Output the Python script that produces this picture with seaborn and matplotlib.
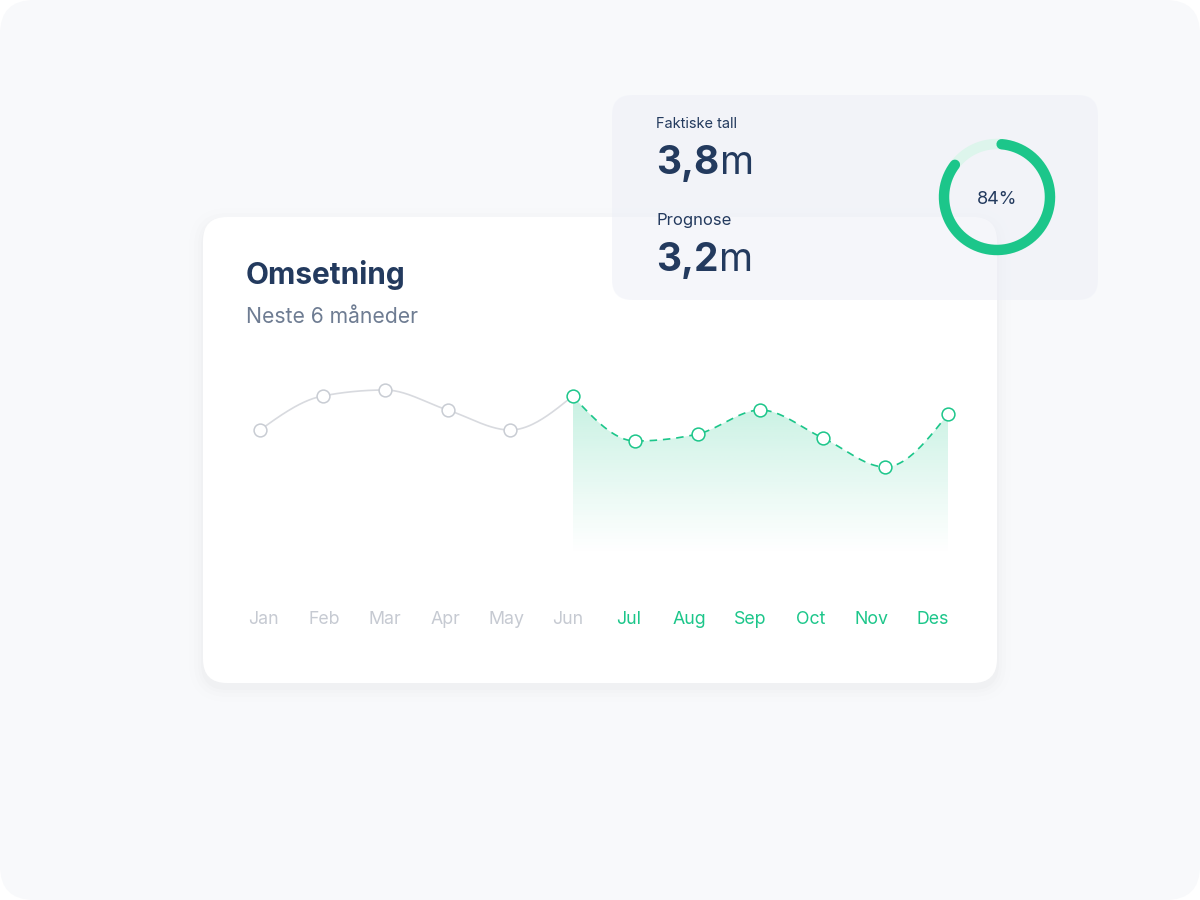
import numpy as np
import pandas as pd
import matplotlib
matplotlib.use("Agg")
import matplotlib.pyplot as plt
from matplotlib.patches import FancyBboxPatch
from matplotlib.path import Path
from matplotlib.patches import PathPatch
import seaborn as sns

# --- Data ---
months = ["Jan", "Feb", "Mar", "Apr", "May", "Jun", "Jul", "Aug", "Sep", "Oct", "Nov", "Des"]
revenue = [260, 328, 340, 300, 260, 328, 238, 252, 300, 244, 186, 292]
n_actual = 6  # Jan..Jun are actual, Jun..Des forecast
actual_label = "Faktiske tall"
actual_value = "3,8"
forecast_label = "Prognose"
forecast_value = "3,2"
unit = "m"
pct_done = 84

# --- Colours ---
GREEN = "#1CC68A"
GREEN_LIGHT = "#DDF5EC"
GRAY_LINE = "#D8DADF"
GRAY_MARK = "#C8CCD3"
GRAY_TXT = "#C6CAD2"
NAVY = "#233A5E"
SUB = "#6E7C92"

sns.set_theme(style="white")
plt.rcParams["font.family"] = ["Inter", "DejaVu Sans"]


def monotone_curve(x, y, n=40):
    # monotone cubic (like d3 curveMonotoneX) for the smooth line
    x = np.asarray(x, float)
    y = np.asarray(y, float)
    h = np.diff(x)
    d = np.diff(y) / h
    m = np.zeros(len(x))
    for i in range(1, len(x) - 1):
        s0, s1 = d[i - 1], d[i]
        p = (s0 * h[i] + s1 * h[i - 1]) / (h[i - 1] + h[i])
        m[i] = (np.sign(s0) + np.sign(s1)) * min(abs(s0), abs(s1), 0.5 * abs(p))
    if len(x) > 2:
        m[0] = (3 * d[0] - m[1]) / 2
        m[-1] = (3 * d[-1] - m[-2]) / 2
    else:
        m[0] = m[-1] = d[0]
    xs, ys = [], []
    for i in range(len(x) - 1):
        t = np.linspace(0, 1, n, endpoint=(i == len(x) - 2))
        h00 = 2 * t**3 - 3 * t**2 + 1
        h10 = t**3 - 2 * t**2 + t
        h01 = -2 * t**3 + 3 * t**2
        h11 = t**3 - t**2
        xs.append(x[i] + t * h[i])
        ys.append(h00 * y[i] + h10 * h[i] * m[i] + h01 * y[i + 1] + h11 * h[i] * m[i + 1])
    return np.concatenate(xs), np.concatenate(ys)


fig = plt.figure(figsize=(12, 9), dpi=100, facecolor="white")

# background axes in pixel coordinates
bg = fig.add_axes([0, 0, 1, 1])
bg.set_xlim(0, 1200)
bg.set_ylim(900, 0)
bg.axis("off")


def card(ax, x0, y0, x1, y1, r, color, alpha=1.0, z=1, shadow=1.0):
    if shadow:
        for k, a in [(14, 0.004), (9, 0.006), (5, 0.008), (2, 0.01)]:
            ax.add_patch(FancyBboxPatch((x0 - k, y0 - k + 5), x1 - x0 + 2 * k, y1 - y0 + 2 * k,
                                        boxstyle=f"round,pad=0,rounding_size={r + k}",
                                        fc="#1B2A4A", ec="none", alpha=a * shadow, zorder=z - 0.5))
    ax.add_patch(FancyBboxPatch((x0, y0), x1 - x0, y1 - y0,
                                boxstyle=f"round,pad=0,rounding_size={r}",
                                fc=color, ec="none", alpha=alpha, zorder=z))


# outer rounded background
card(bg, 0, 0, 1200, 900, 34, "#F8F9FB", z=0.5, shadow=0)
# main card
card(bg, 203, 217, 997, 683, 24, "white", z=2)
# overlay card (translucent)
card(bg, 612, 95, 1098, 300, 20, "#EDEFF7", alpha=0.5, z=3, shadow=0)

# titles
bg.text(246, 275, "Omsetning", fontsize=21.5, fontweight="bold", color=NAVY, va="center", zorder=5)
bg.text(246, 317, "Neste 6 måneder", fontsize=15.2, color=SUB, va="center", zorder=5)

# overlay card texts
renderer = fig.canvas.get_renderer()
bg.text(656, 124, actual_label, fontsize=10.5, color=NAVY, va="center", zorder=5)
bg.text(656, 221, forecast_label, fontsize=12, color=NAVY, va="center", zorder=5)
for val, base in [(actual_value, 174), (forecast_value, 271)]:
    t = bg.text(656, base, val, fontsize=28, fontweight="bold", color=NAVY, va="baseline", zorder=5)
    ext = t.get_window_extent(renderer=renderer)
    bg.text(ext.x1 + 1, base, unit, fontsize=28, color=NAVY, va="baseline", zorder=5)

# donut ring
cx, cy, rad = 997, 197, 53
theta_bg = np.linspace(0, 2 * np.pi, 300)
bg.plot(cx + rad * np.cos(theta_bg), cy - rad * np.sin(theta_bg), color=GREEN_LIGHT, lw=7.5, zorder=5)
theta = np.deg2rad(np.linspace(85, 85 - pct_done / 100 * 360, 300))
bg.plot(cx + rad * np.cos(theta), cy - rad * np.sin(theta), color=GREEN, lw=7.5,
        solid_capstyle="round", zorder=6)
bg.text(cx, cy + 2, f"{pct_done}%", fontsize=13, color=NAVY, ha="center", va="center", zorder=6)

# month labels
for i, m in enumerate(months):
    bg.text(263 + i * 60.9, 619, m, fontsize=12.8, ha="center", va="center",
            color=GREEN if i >= n_actual else GRAY_TXT, zorder=5)

# --- Chart axes ---
ax = fig.add_axes([230 / 1200, 340 / 900, 748 / 1200, 190 / 900])
ax.patch.set_alpha(0)

idx = np.arange(len(months))
hx, hy = monotone_curve(idx[:n_actual], revenue[:n_actual])
fx, fy = monotone_curve(idx[n_actual - 1:], revenue[n_actual - 1:])
hist = pd.DataFrame({"x": hx, "y": hy})
fc = pd.DataFrame({"x": fx, "y": fy})

# gradient fill under forecast
rgba = np.zeros((256, 1, 4))
rgba[..., :3] = matplotlib.colors.to_rgb(GREEN)
vals = np.linspace(0, 380, 256).reshape(-1, 1)
rgba[..., 3] = np.clip((vals - 10) / 330, 0, 1) ** 1.1 * 0.26
img = ax.imshow(rgba, extent=[fx.min(), fx.max(), 0, 380], origin="lower", aspect="auto", zorder=1)
verts = np.vstack([[fx[0], 10], np.column_stack([fx, fy]), [fx[-1], 10], [fx[0], 10]])
clip = PathPatch(Path(verts), transform=ax.transData, fc="none", ec="none")
ax.add_patch(clip)
img.set_clip_path(clip)

sns.lineplot(data=hist, x="x", y="y", ax=ax, color=GRAY_LINE, lw=1.2, sort=False, zorder=2)
sns.lineplot(data=fc, x="x", y="y", ax=ax, color=GREEN, lw=1.2, sort=False, zorder=2)
ax.lines[-1].set_dashes((4.5, 3.5))

pts = pd.DataFrame({"x": idx, "y": revenue,
                    "kind": ["hist" if i < n_actual - 1 else "fc" for i in idx]})
sns.scatterplot(data=pts[pts.kind == "hist"], x="x", y="y", ax=ax, s=85, color="white",
                edgecolor=GRAY_MARK, linewidth=1.1, zorder=4, clip_on=False)
sns.scatterplot(data=pts[pts.kind == "fc"], x="x", y="y", ax=ax, s=85, color="white",
                edgecolor=GREEN, linewidth=1.1, zorder=4, clip_on=False)
ax.set_xlim(-30 / 62.545, 11 + 30 / 62.545)
ax.set_ylim(0, 380)
ax.axis("off")

fig.savefig("out.png", dpi=100, facecolor="white")
